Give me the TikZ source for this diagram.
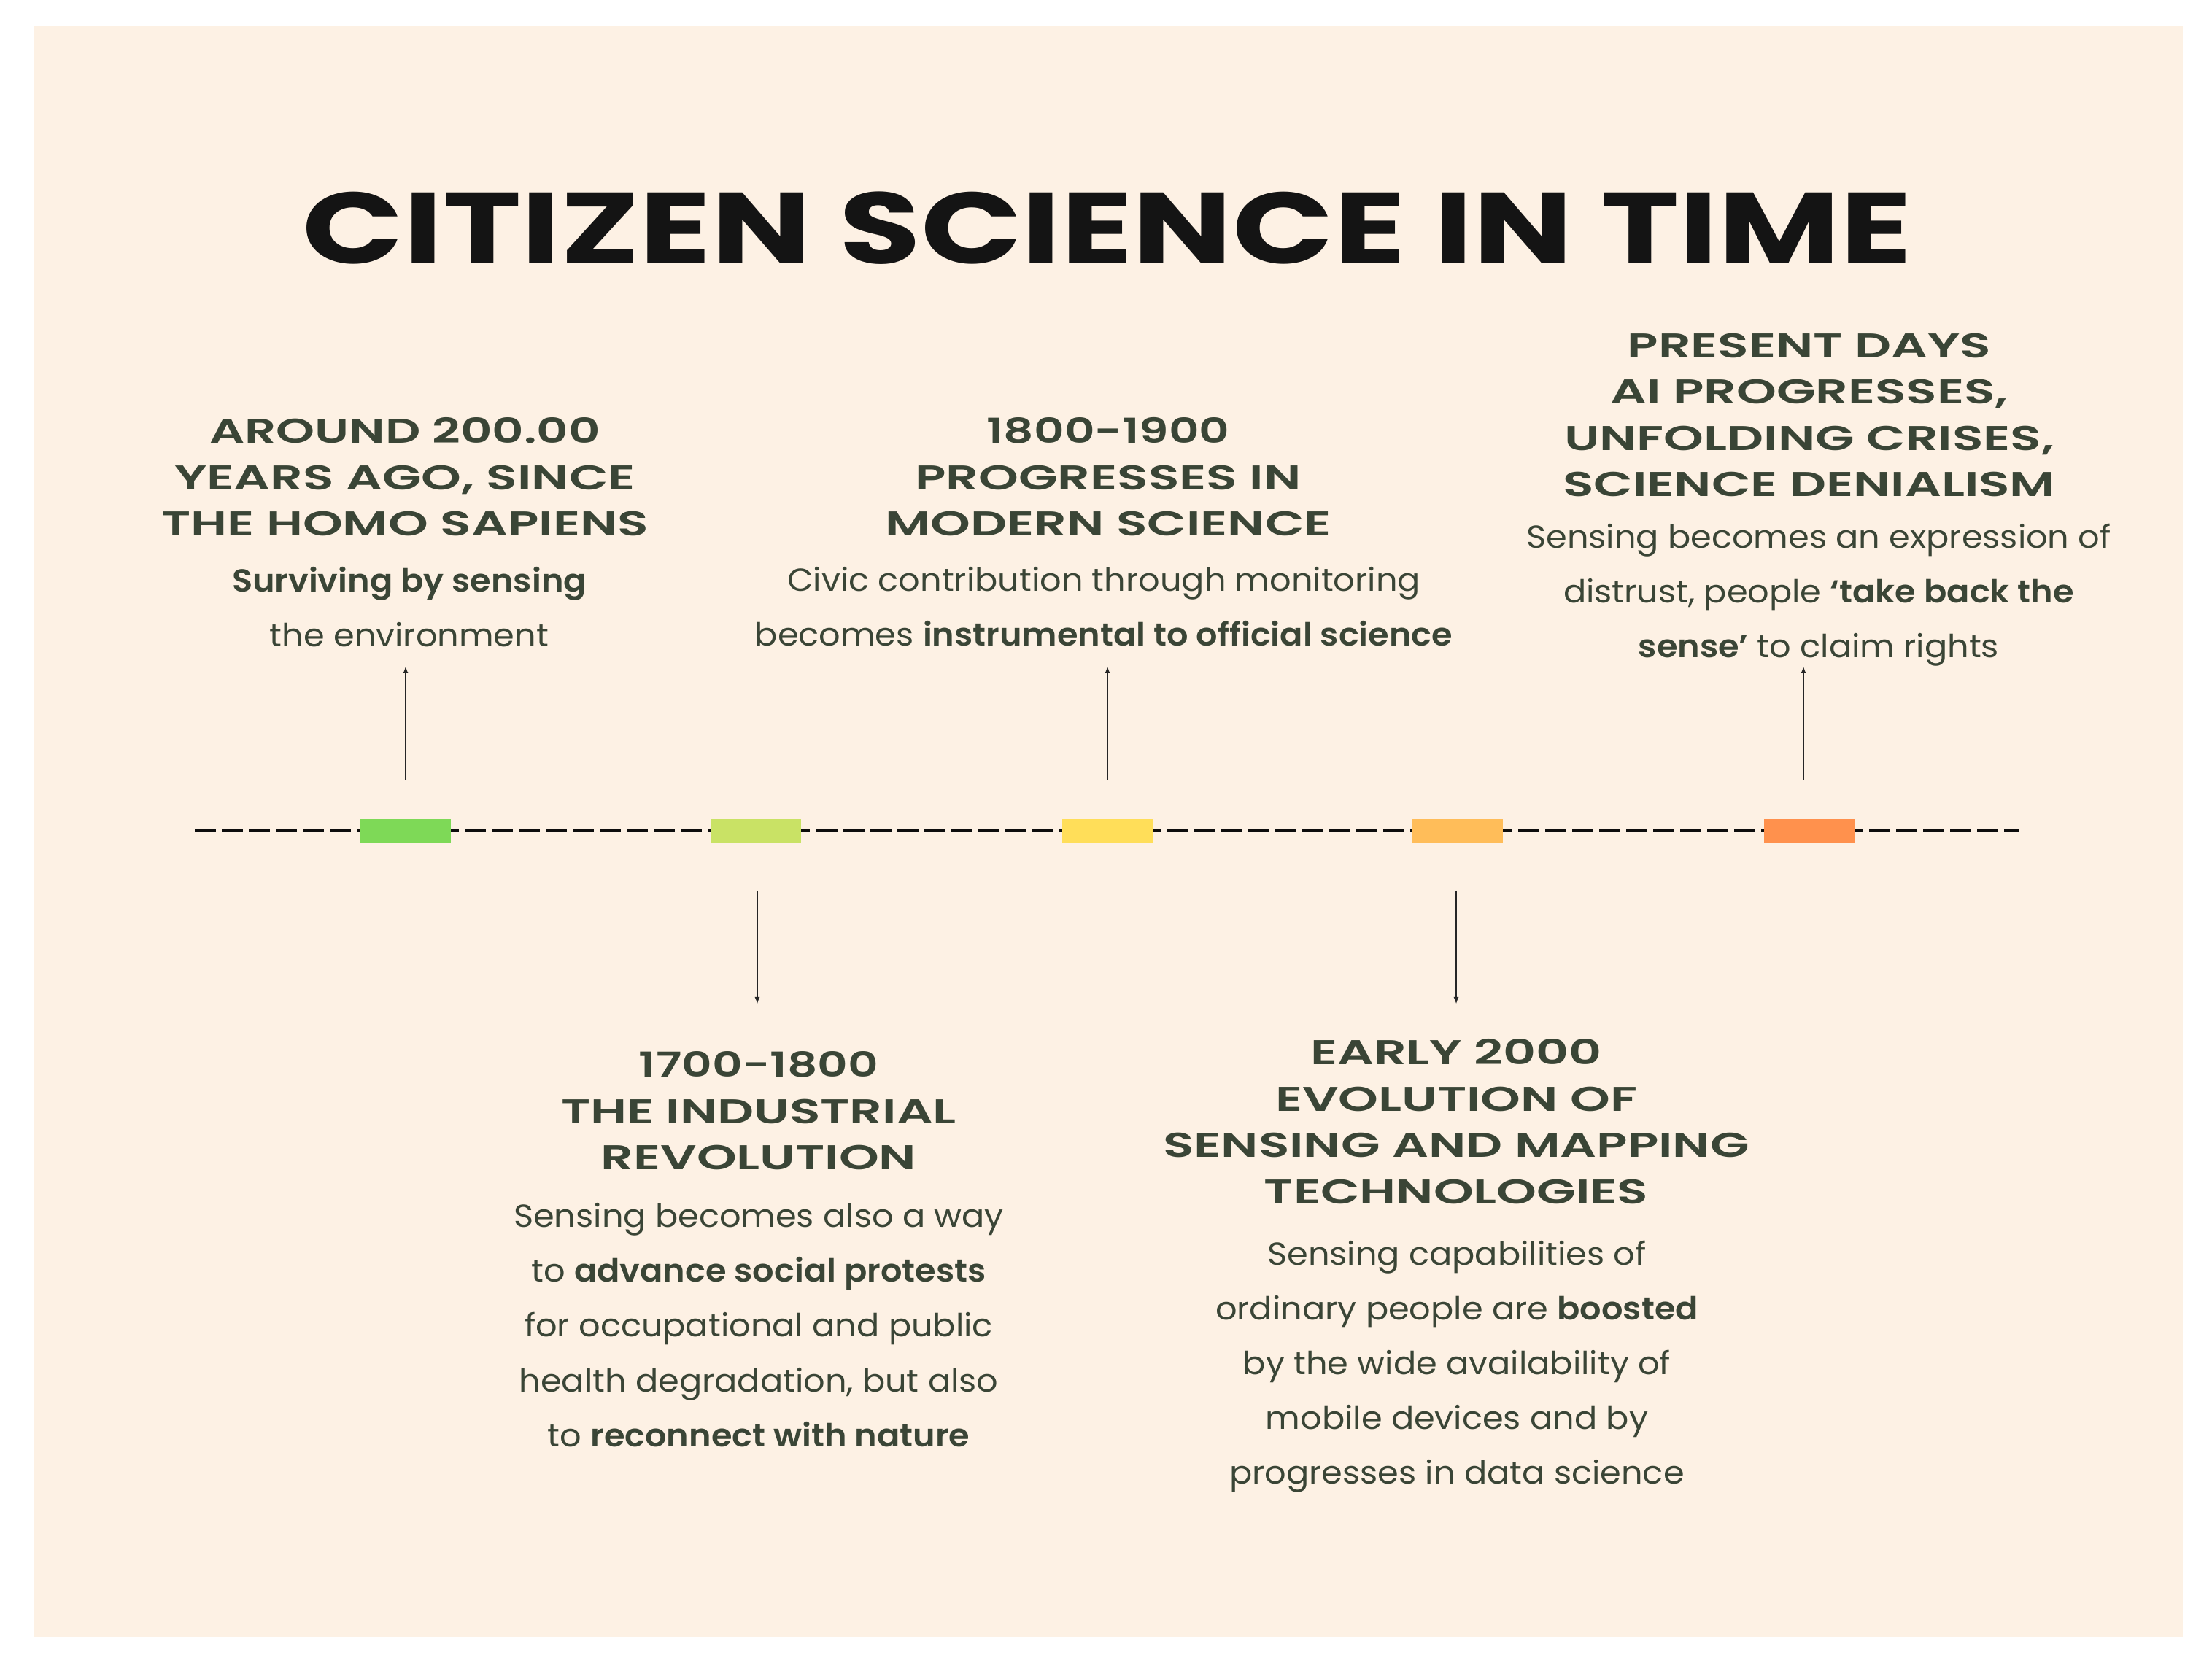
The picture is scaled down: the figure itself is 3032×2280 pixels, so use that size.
\documentclass[tikz,border=0pt]{standalone}
\usepackage{fontspec}
\setmainfont{Poppins}
\newfontfamily\titlefont{Poppins}[FakeStretch=1.313]
\newfontfamily\headfont{Poppins SemiBold}[FakeStretch=1.48]
\newfontfamily\headnarrow{Poppins SemiBold}[FakeStretch=1.37]
\newfontfamily\headmid{Poppins SemiBold}[FakeStretch=1.43]
\newfontfamily\bodyfont{Poppins}[FakeStretch=1.06, BoldFont={Poppins SemiBold}]
\usetikzlibrary{arrows.meta}
\definecolor{bg}{HTML}{FDF1E4}
\definecolor{ink}{HTML}{3A4536}
\definecolor{mkA}{HTML}{7ED957}
\definecolor{mkB}{HTML}{C9E265}
\definecolor{mkC}{HTML}{FFDE59}
\definecolor{mkD}{HTML}{FFBD59}
\definecolor{mkE}{HTML}{FF914D}
\begin{document}
\begin{tikzpicture}[x=0.01cm,y=-0.01cm,
  heading/.style={anchor=north, inner sep=0pt, align=center, text=ink,
    font=\headfont\fontsize{13.4}{18.07}\selectfont},
  body/.style={anchor=north, inner sep=0pt, align=center, text=ink,
    font=\bodyfont\fontsize{12.4}{21.34}\selectfont},
  marker/.style={minimum width=1.23cm, minimum height=0.33cm, inner sep=0pt, draw=none},
  conn/.style={-{Latex[length=1mm,width=0.7mm]}, line width=0.6pt, draw=black!85}]
% canvas
\fill[white] (0,0) rectangle (3032,2280);
\fill[bg] (46,35) rectangle (2992,2244);
\useasboundingbox (0,0) rectangle (3032,2280);
% title
\node[anchor=base, inner sep=0pt, text=black!92,
  font=\titlefont\bfseries\fontsize{39.4}{42}\selectfont] (title) at (1518,362) {CITIZEN SCIENCE IN TIME};
% timeline
\coordinate (tl) at (267,1139);
\coordinate (tr) at (2768,1139);
\draw[line width=1.4pt, black!95, dash pattern=on 0.29cm off 0.08cm] (tl) -- (tr);
\node[marker, fill=mkA] (m1) at (556,1139.5) {};
\node[marker, fill=mkB] (m2) at (1036,1139.5) {};
\node[marker, fill=mkC] (m3) at (1518,1139.5) {};
\node[marker, fill=mkD] (m4) at (1998,1139.5) {};
\node[marker, fill=mkE] (m5) at (2480,1139.5) {};
% block 1
\node[heading] (h1) at (555,572) {{\headmid AROUND 200.00}\\YEARS AGO, SINCE\\THE HOMO SAPIENS};
\node[body] (b1) at (561,777) {\textbf{Surviving by sensing}\\the environment};
% block 3
\node[heading] (h3) at (1519,572) {{\headnarrow 1800-1900}\\PROGRESSES IN\\MODERN SCIENCE};
\node[body] (b3) at (1513,777) {Civic contribution through monitoring\\becomes \textbf{instrumental to official science}};
% block 5
\node[heading] (h5) at (2480,456) {PRESENT DAYS\\AI PROGRESSES,\\UNFOLDING CRISES,\\SCIENCE DENIALISM};
\node[body] (b5) at (2493,717) {Sensing becomes an expression of\\distrust, people \textbf{‘take back the}\\\textbf{sense’} to claim rights};
% block 2
\node[heading] (h2) at (1040,1441) {{\headnarrow 1700-1800}\\THE INDUSTRIAL\\REVOLUTION};
\node[body] (b2) at (1040,1649) {Sensing becomes also a way\\to \textbf{advance social protests}\\for occupational and public\\health degradation, but also\\to \textbf{reconnect with nature}};
% block 4
\node[heading] (h4) at (1996,1424) {EARLY 2000\\EVOLUTION OF\\SENSING AND MAPPING\\TECHNOLOGIES};
\node[body] (b4) at (1997,1700) {Sensing capabilities of\\ordinary people are \textbf{boosted}\\by the wide availability of\\mobile devices and by\\progresses in data science};
% connectors
\coordinate (a1s) at (556,1070); \coordinate (a1e) at (556,913);
\coordinate (a3s) at (1518,1070); \coordinate (a3e) at (1518,913);
\coordinate (a5s) at (2472,1070); \coordinate (a5e) at (2472,913);
\coordinate (a2s) at (1038,1221); \coordinate (a2e) at (1038,1377);
\coordinate (a4s) at (1996,1221); \coordinate (a4e) at (1996,1377);
\draw[conn] (a1s) -- (a1e);
\draw[conn] (a3s) -- (a3e);
\draw[conn] (a5s) -- (a5e);
\draw[conn] (a2s) -- (a2e);
\draw[conn] (a4s) -- (a4e);
\end{tikzpicture}
\end{document}
